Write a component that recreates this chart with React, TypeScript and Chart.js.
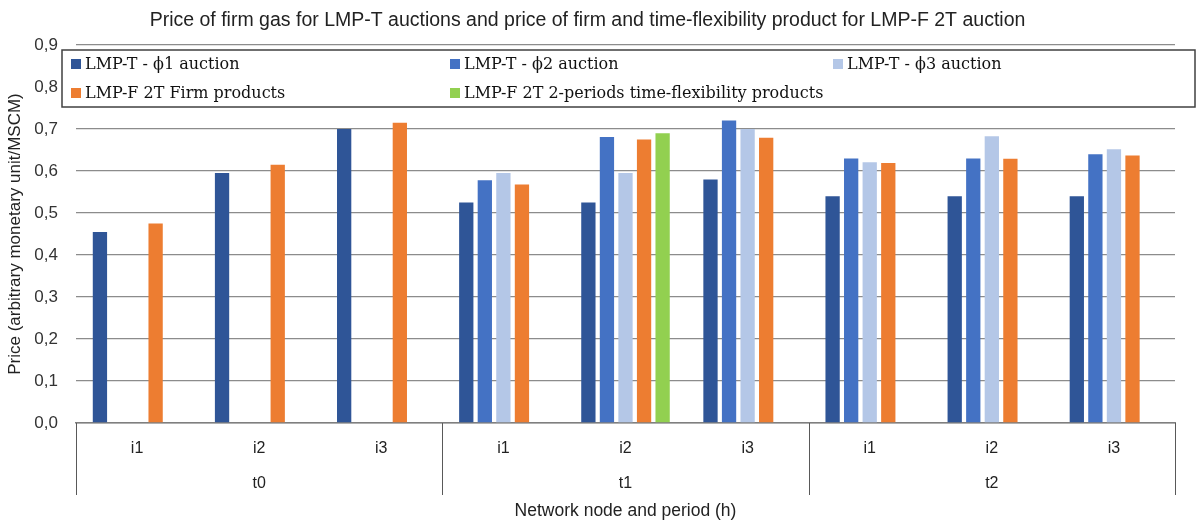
import React, { useEffect, useRef } from "react";
import { Chart, registerables } from "chart.js";

Chart.register(...registerables);

const categories = ["i1", "i2", "i3", "i1", "i2", "i3", "i1", "i2", "i3"];
const periods = ["t0", "t1", "t2"];
const yTicks = [0, 0.1, 0.2, 0.3, 0.4, 0.5, 0.6, 0.7, 0.8, 0.9];

const seriesNames = [
  "LMP-T - ϕ1 auction",
  "LMP-T - ϕ2 auction",
  "LMP-T - ϕ3 auction",
  "LMP-F 2T Firm products",
  "LMP-F 2T 2-periods time-flexibility products",
];
const phi1 = [0.455, 0.595, 0.7, 0.525, 0.525, 0.58, 0.54, 0.54, 0.54];
const phi2 = [null, null, null, 0.578, 0.681, 0.72, 0.63, 0.63, 0.64];
const phi3 = [null, null, null, 0.595, 0.595, 0.7, 0.621, 0.683, 0.652];
const firm = [0.475, 0.615, 0.715, 0.568, 0.675, 0.679, 0.619, 0.629, 0.637];
const flex = [null, null, null, null, 0.69, null, null, null, null];

const colors = ["#2F5597", "#4472C4", "#B4C7E7", "#ED7D31", "#92D050"];

const SANS = "'Liberation Sans', Arial, sans-serif";
const SERIF = "'DejaVu Serif', serif";

const overlayPlugin = {
  id: "overlay",
  afterDraw(chart: any) {
    const { ctx, chartArea } = chart;
    const x = chart.scales.x;
    const n = categories.length;
    const per = n / periods.length;
    const cw = (x.right - x.left) / n;
    ctx.save();
    // group separators
    ctx.strokeStyle = "#595959";
    ctx.lineWidth = 1;
    for (let g = 0; g <= periods.length; g++) {
      const px = Math.round(x.left + g * per * cw) + 0.5;
      ctx.beginPath();
      ctx.moveTo(px, chartArea.bottom);
      ctx.lineTo(px, chartArea.bottom + 72);
      ctx.stroke();
    }
    // group labels
    ctx.fillStyle = "#222";
    ctx.font = `16px ${SANS}`;
    ctx.textAlign = "center";
    ctx.textBaseline = "middle";
    periods.forEach((p, g) => {
      const cx = x.left + (g * per + per / 2) * cw;
      ctx.fillText(p, cx, chartArea.bottom + 61);
    });
    // legend box
    const bx = 62, by = 50, bw = 1133, bh = 57;
    ctx.fillStyle = "#fff";
    ctx.fillRect(bx, by, bw, bh);
    ctx.strokeStyle = "#404040";
    ctx.lineWidth = 1.5;
    ctx.strokeRect(bx, by, bw, bh);
    const cols = [71, 450, 833];
    const rows = [64, 93];
    ctx.font = `16px ${SERIF}`;
    ctx.textAlign = "left";
    ctx.textBaseline = "middle";
    chart.data.datasets.forEach((ds: any, i: number) => {
      const cx = cols[i % 3];
      const cy = rows[Math.floor(i / 3)];
      ctx.fillStyle = ds.backgroundColor;
      ctx.fillRect(cx, cy - 5, 10, 10);
      ctx.fillStyle = "#111";
      ctx.fillText(ds.label, cx + 14, cy + 1);
    });
    ctx.restore();
  },
};

export default function App() {
  const ref = useRef<HTMLCanvasElement | null>(null);
  useEffect(() => {
    if (!ref.current) return;
    const data = [phi1, phi2, phi3, firm, flex];
    const chart = new Chart(ref.current, {
      type: "bar",
      data: {
        labels: categories,
        datasets: data.map((d, i) => ({
          label: seriesNames[i],
          data: d as any,
          backgroundColor: colors[i],
          borderWidth: 0,
          categoryPercentage: 0.76,
          barPercentage: 0.77,
        })),
      },
      options: {
        responsive: false,
        animation: false,
        devicePixelRatio: 1,
        layout: { padding: { left: 0, right: 24, top: 0, bottom: 0 } },
        plugins: {
          legend: { display: false },
          tooltip: { enabled: false },
          title: {
            display: true,
            text: "Price of firm gas for LMP-T auctions and price of firm and time-flexibility product for LMP-F 2T auction",
            color: "#222",
            font: { family: SANS, size: 19.5, weight: "normal" as any, lineHeight: 1.2 },
            padding: { top: 8.5, bottom: 13.1 },
          },
        },
        scales: {
          x: {
            grid: { display: false, drawTicks: false },
            border: { display: true, color: "#7f7f7f", width: 1.5 },
            ticks: { color: "#222", font: { family: SANS, size: 16 }, padding: 16, maxRotation: 0, autoSkip: false },
            title: {
              display: true,
              text: "Network node and period (h)",
              color: "#222",
              font: { family: SANS, size: 17.5, lineHeight: 1.2 },
              padding: { top: 0, bottom: 0 },
            },
            afterFit: (s: any) => { s.height = 99; },
          },
          y: {
            min: 0,
            max: 0.9,
            afterBuildTicks: (s: any) => { s.ticks = yTicks.map((v) => ({ value: v })); },
            grid: { color: "#8c8c8c", lineWidth: 1.3, drawTicks: false },
            border: { display: false },
            ticks: {
              color: "#333",
              font: { family: SANS, size: 17 },
              padding: 18,
              callback: (v: any) => Number(v).toFixed(1).replace(".", ","),
            },
            title: {
              display: true,
              text: "Price (arbitrary monetary unit/MSCM)",
              color: "#222",
              font: { family: SANS, size: 17, lineHeight: 1.2 },
              padding: { top: 5, bottom: 0 },
            },
            afterFit: (s: any) => { s.width = 76; },
          },
        },
      },
      plugins: [overlayPlugin],
    });
    return () => chart.destroy();
  }, []);
  return (
    <div style={{ position: "fixed", left: 0, top: 0, width: 1199, height: 522, background: "#fff" }}>
      <canvas ref={ref} width={1199} height={522} />
    </div>
  );
}
